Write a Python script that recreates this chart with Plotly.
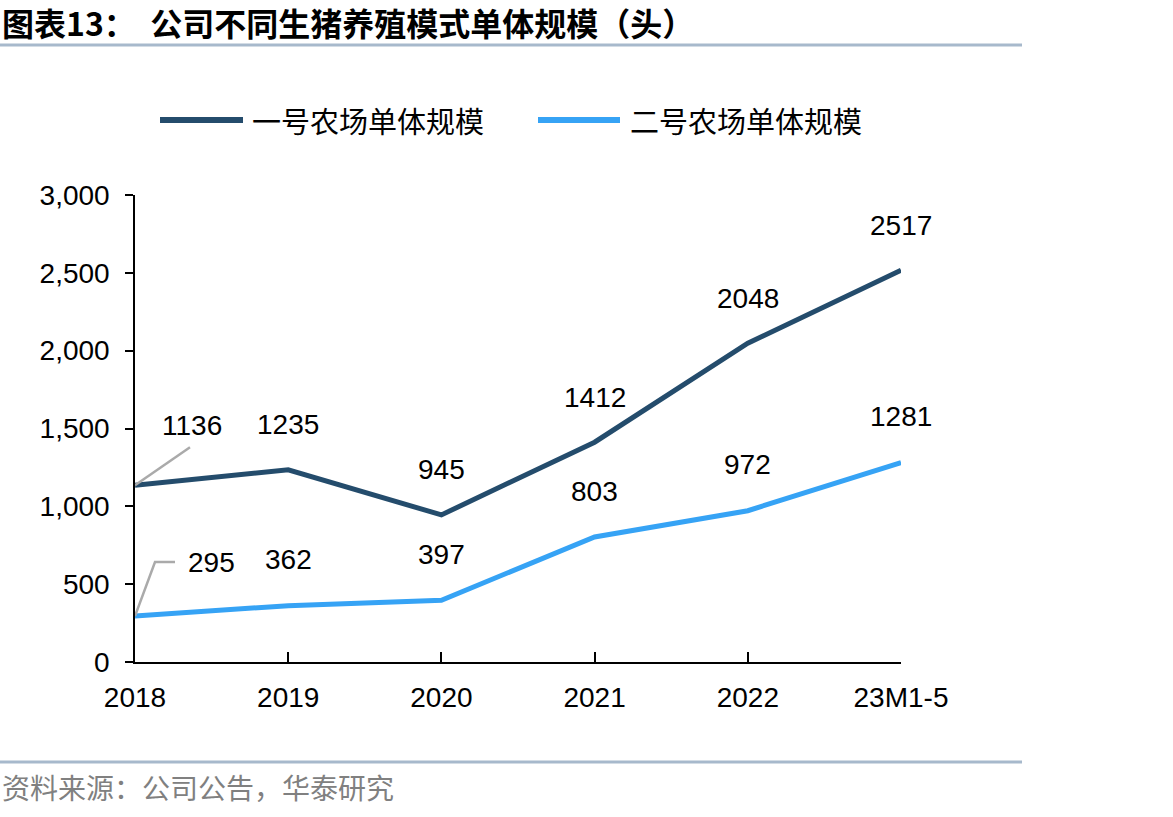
import plotly.graph_objects as go

categories = ["2018", "2019", "2020", "2021", "2022", "23M1-5"]
farm1 = [1136, 1235, 945, 1412, 2048, 2517]
farm2 = [295, 362, 397, 803, 972, 1281]
series_names = ["一号农场单体规模", "二号农场单体规模"]
y_ticks = [0, 500, 1000, 1500, 2000, 2500, 3000]
y_ticktext = ["0", "500", "1,000", "1,500", "2,000", "2,500", "3,000"]
title_text = "图表13：  公司不同生猪养殖模式单体规模（头）"
source_text = "资料来源：公司公告，华泰研究"

C1 = "#244C6C"
C2 = "#36A3F5"
W_FIG, H_FIG = 1173, 817
L, R, T, B = 135, 272, 195, 155
PW = W_FIG - L - R
PH = H_FIG - T - B

def px(x):
    return (x - L) / PW

def py(y):
    return (H_FIG - B - y) / PH

xs = list(range(len(categories)))
fig = go.Figure()
fig.add_trace(go.Scatter(x=xs, y=farm1, mode="lines", name=series_names[0],
                         line=dict(color=C1, width=5), cliponaxis=False))
fig.add_trace(go.Scatter(x=xs, y=farm2, mode="lines", name=series_names[1],
                         line=dict(color=C2, width=5), cliponaxis=False))

num_font = dict(family="Liberation Sans, Arial", size=28, color="#000000")
cjk = "Noto Sans CJK SC"

annotations = []
shapes = []
for i, (a, b) in enumerate(zip(farm1, farm2)):
    if i == 0:
        continue
    annotations.append(dict(x=i, y=a, xref="x", yref="y", text=str(a), showarrow=False,
                            yshift=45, font=num_font))
    annotations.append(dict(x=i, y=b, xref="x", yref="y", text=str(b), showarrow=False,
                            yshift=46, font=num_font))
# first-point labels with leader lines
annotations.append(dict(x=0, y=farm1[0], xref="x", yref="y", text=str(farm1[0]), showarrow=False,
                        xshift=57, yshift=60, font=num_font))
annotations.append(dict(x=0, y=farm2[0], xref="x", yref="y", text=str(farm2[0]), showarrow=False,
                        xshift=76, yshift=54, font=num_font))
lead = dict(color="#AAAAAA", width=2.5)
shapes.append(dict(type="line", xref="x", yref="y", xsizemode="pixel", ysizemode="pixel",
                   xanchor=0, yanchor=farm1[0], x0=0, y0=0, x1=55, y1=38, line=lead))
shapes.append(dict(type="path", xref="x", yref="y", xsizemode="pixel", ysizemode="pixel",
                   xanchor=0, yanchor=farm2[0], path="M0,0 L20,54 L40,54", line=lead))

# legend (manual, to match long line samples)
leg_y = py(120)
for x0, x1, tx, col, name in [(160, 243, 250, C1, series_names[0]), (538, 620, 628, C2, series_names[1])]:
    shapes.append(dict(type="line", xref="paper", yref="paper", x0=px(x0), x1=px(x1), y0=leg_y, y1=leg_y,
                       line=dict(color=col, width=6)))
    annotations.append(dict(x=px(tx), y=leg_y, xref="paper", yref="paper", text=name, showarrow=False,
                            xanchor="left", yanchor="middle", font=dict(family=cjk, size=29, color="#000")))

# title and separators
annotations.append(dict(x=px(0), y=py(22), xref="paper", yref="paper", text="<b>" + title_text + "</b>",
                        showarrow=False, xanchor="left", yanchor="middle",
                        font=dict(family=cjk, size=32, color="#000")))
for yy in (45, 762):
    shapes.append(dict(type="line", xref="paper", yref="paper", x0=px(0), x1=px(1022), y0=py(yy), y1=py(yy),
                       line=dict(color="#A7B9CC", width=3)))
annotations.append(dict(x=px(0), y=py(787), xref="paper", yref="paper", text=source_text,
                        showarrow=False, xanchor="left", yanchor="middle",
                        font=dict(family=cjk, size=28, color="#808080")))

fig.update_layout(
    width=W_FIG, height=H_FIG, margin=dict(l=L, r=R, t=T, b=B),
    paper_bgcolor="white", plot_bgcolor="white", showlegend=False,
    annotations=annotations, shapes=shapes,
)
fig.update_xaxes(range=[0, len(categories) - 1], tickvals=xs, ticktext=categories,
                 showgrid=False, zeroline=False, showline=True, linecolor="#000", linewidth=1.5,
                 ticks="inside", ticklen=10, tickwidth=1.5, tickcolor="#000",
                 tickfont=num_font, ticklabelstandoff=10)
fig.update_yaxes(range=[0, 3000], tickvals=y_ticks, ticktext=y_ticktext,
                 showgrid=False, zeroline=False, showline=True, linecolor="#000", linewidth=1.5,
                 ticks="outside", ticklen=8, tickwidth=1.5, tickcolor="#000",
                 tickfont=num_font, ticklabelstandoff=10)

fig.write_html("out.html")
